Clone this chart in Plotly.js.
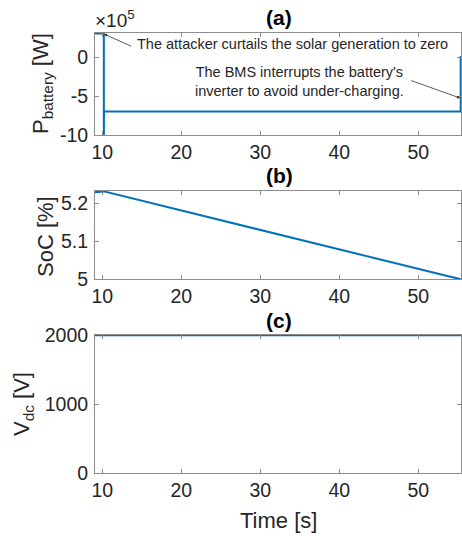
<!DOCTYPE html>
<html>
<head>
<meta charset="utf-8">
<script src="https://cdn.plot.ly/plotly-3.0.1.min.js"></script>
<style>
  html, body { margin: 0; padding: 0; background: #fff; }
  #chart { width: 462px; height: 536px; }
</style>
</head>
<body>
<div id="chart"></div>
<script>
// Battery power during the solar-curtailment attack
const timeP = [9.08, 10.2, 10.2, 10.22, 55.36, 55.36, 55.4];
const pBattery = [3.0e5, 3.0e5, -1.05e6, -7.0e5, -7.0e5, 0, 0];

// State of charge
const timeSoc = [9.08, 10.2, 55.4];
const soc = [5.229, 5.231, 4.999];

// DC-link voltage
const timeVdc = [9.08, 55.4];
const vdc = [2000, 2000];

const xTicks = [10, 20, 30, 40, 50];
const pTickVals = [-1.0e6, -5.0e5, 0];
const pTickText = ['-10', '-5', '0'];
const socTicks = [5, 5.1, 5.2];
const vdcTicks = [0, 1000, 2000];

const W = 462, H = 536;
const M = { l: 95, r: 1, t: 33, b: 63 };
const plotW = W - M.l - M.r, plotH = H - M.t - M.b;
const px = v => (v - M.l) / plotW;        // horizontal pixel -> paper
const py = v => 1 - (v - M.t) / plotH;    // vertical pixel -> paper

const blue = '#0072BD';
const axisGray = '#8c8c8c';
const textCol = '#262626';
const font = 'Liberation Sans, Arial, Helvetica, sans-serif';
const xRange = [9.08, 55.4];
const tickSize = 19.5;
const labelSize = 22;

const lineStyle = { color: blue, width: 2 };

const traces = [
  { x: timeP, y: pBattery, type: 'scatter', mode: 'lines', line: lineStyle, xaxis: 'x', yaxis: 'y', hoverinfo: 'skip' },
  { x: timeSoc, y: soc, type: 'scatter', mode: 'lines', line: lineStyle, xaxis: 'x2', yaxis: 'y2', hoverinfo: 'skip' },
  { x: timeVdc, y: vdc, type: 'scatter', mode: 'lines', line: lineStyle, xaxis: 'x3', yaxis: 'y3', hoverinfo: 'skip' }
];

function xAxis(anchor) {
  return {
    domain: [0, 1], range: xRange, anchor: anchor,
    tickvals: xTicks, ticks: 'inside', ticklen: 4, tickcolor: axisGray,
    showline: true, linecolor: axisGray, linewidth: 1, mirror: 'ticks',
    showgrid: false, zeroline: false,
    tickfont: { family: font, size: tickSize, color: textCol }
  };
}

function yAxis(anchor, domain, range, tickvals, ticktext) {
  const a = {
    domain: domain, range: range, anchor: anchor,
    tickvals: tickvals, ticks: 'inside', ticklen: 4, tickcolor: axisGray,
    showline: true, linecolor: axisGray, linewidth: 1, mirror: 'ticks',
    showgrid: false, zeroline: false,
    ticklabelstandoff: 2,
    tickfont: { family: font, size: tickSize, color: textCol }
  };
  if (ticktext) a.ticktext = ticktext;
  return a;
}

// Rotated axis labels placed beside each panel
function yLabel(text, xPix, yPix) {
  return { text: text, xref: 'paper', yref: 'paper', x: px(xPix), y: py(yPix), textangle: -90,
    xanchor: 'center', yanchor: 'middle', showarrow: false, font: { family: font, size: labelSize, color: textCol } };
}

function panelTitle(text, yPix) {
  return { text: '<b>' + text + '</b>', xref: 'paper', yref: 'paper', x: px(279), y: py(yPix),
    xanchor: 'center', yanchor: 'middle', showarrow: false, font: { family: font, size: 21, color: '#000' } };
}

const layout = {
  width: W, height: H,
  margin: M,
  paper_bgcolor: '#fff', plot_bgcolor: '#fff',
  showlegend: false,
  font: { family: font, color: textCol },
  xaxis: xAxis('y'),
  yaxis: yAxis('x', [py(135), py(33)], [-1.0e6, 3.08e5], pTickVals, pTickText),
  xaxis2: xAxis('y2'),
  yaxis2: yAxis('x2', [py(279), py(191)], [5.0, 5.232], socTicks, null),
  xaxis3: xAxis('y3'),
  yaxis3: yAxis('x3', [py(473), py(335)], [0, 2003], vdcTicks, null),
  annotations: [
    panelTitle('(a)', 18),
    panelTitle('(b)', 175),
    panelTitle('(c)', 320),
    yLabel('P<sub>battery</sub> [W]', 42, 84),
    yLabel('SoC [%]', 45, 236),
    yLabel('V<sub>dc</sub> [V]', 23, 404),
    { text: 'Time [s]', xref: 'paper', yref: 'paper', x: px(278), y: py(520), xanchor: 'center', yanchor: 'middle',
      showarrow: false, font: { family: font, size: labelSize, color: textCol } },
    { text: '×10<sup>5</sup>', xref: 'paper', yref: 'paper', x: px(93), y: py(19), xanchor: 'left', yanchor: 'middle', showarrow: false, font: { family: font, size: 19, color: textCol } },
    // Callout: attack start
    { text: '', xref: 'x', yref: 'y', x: 10.22, y: 2.95e5, axref: 'x', ayref: 'y', ax: 13.85, ay: 1.3e5,
      showarrow: true, arrowhead: 2, arrowsize: 0.8, arrowwidth: 0.8, arrowcolor: '#333' },
    { text: 'The attacker curtails the solar generation to zero', xref: 'x', yref: 'y', x: 14.1, y: 1.67e5,
      xanchor: 'left', yanchor: 'middle', showarrow: false, font: { family: font, size: 14.5, color: textCol } },
    // Callout: BMS interruption
    { text: '', xref: 'x', yref: 'y', x: 55.28, y: -5.26e5, axref: 'x', ayref: 'y', ax: 48.9, ay: -2.95e5,
      showarrow: true, arrowhead: 2, arrowsize: 0.8, arrowwidth: 0.8, arrowcolor: '#333' },
    { text: "The BMS interrupts the battery's<br>inverter to avoid under-charging.", xref: 'x', yref: 'y', x: 35.0, y: -3.08e5,
      xanchor: 'center', yanchor: 'middle', showarrow: false, align: 'center', font: { family: font, size: 14.5, color: textCol } }
  ]
};

Plotly.newPlot('chart', traces, layout, { staticPlot: true, displayModeBar: false });
</script>
</body>
</html>
